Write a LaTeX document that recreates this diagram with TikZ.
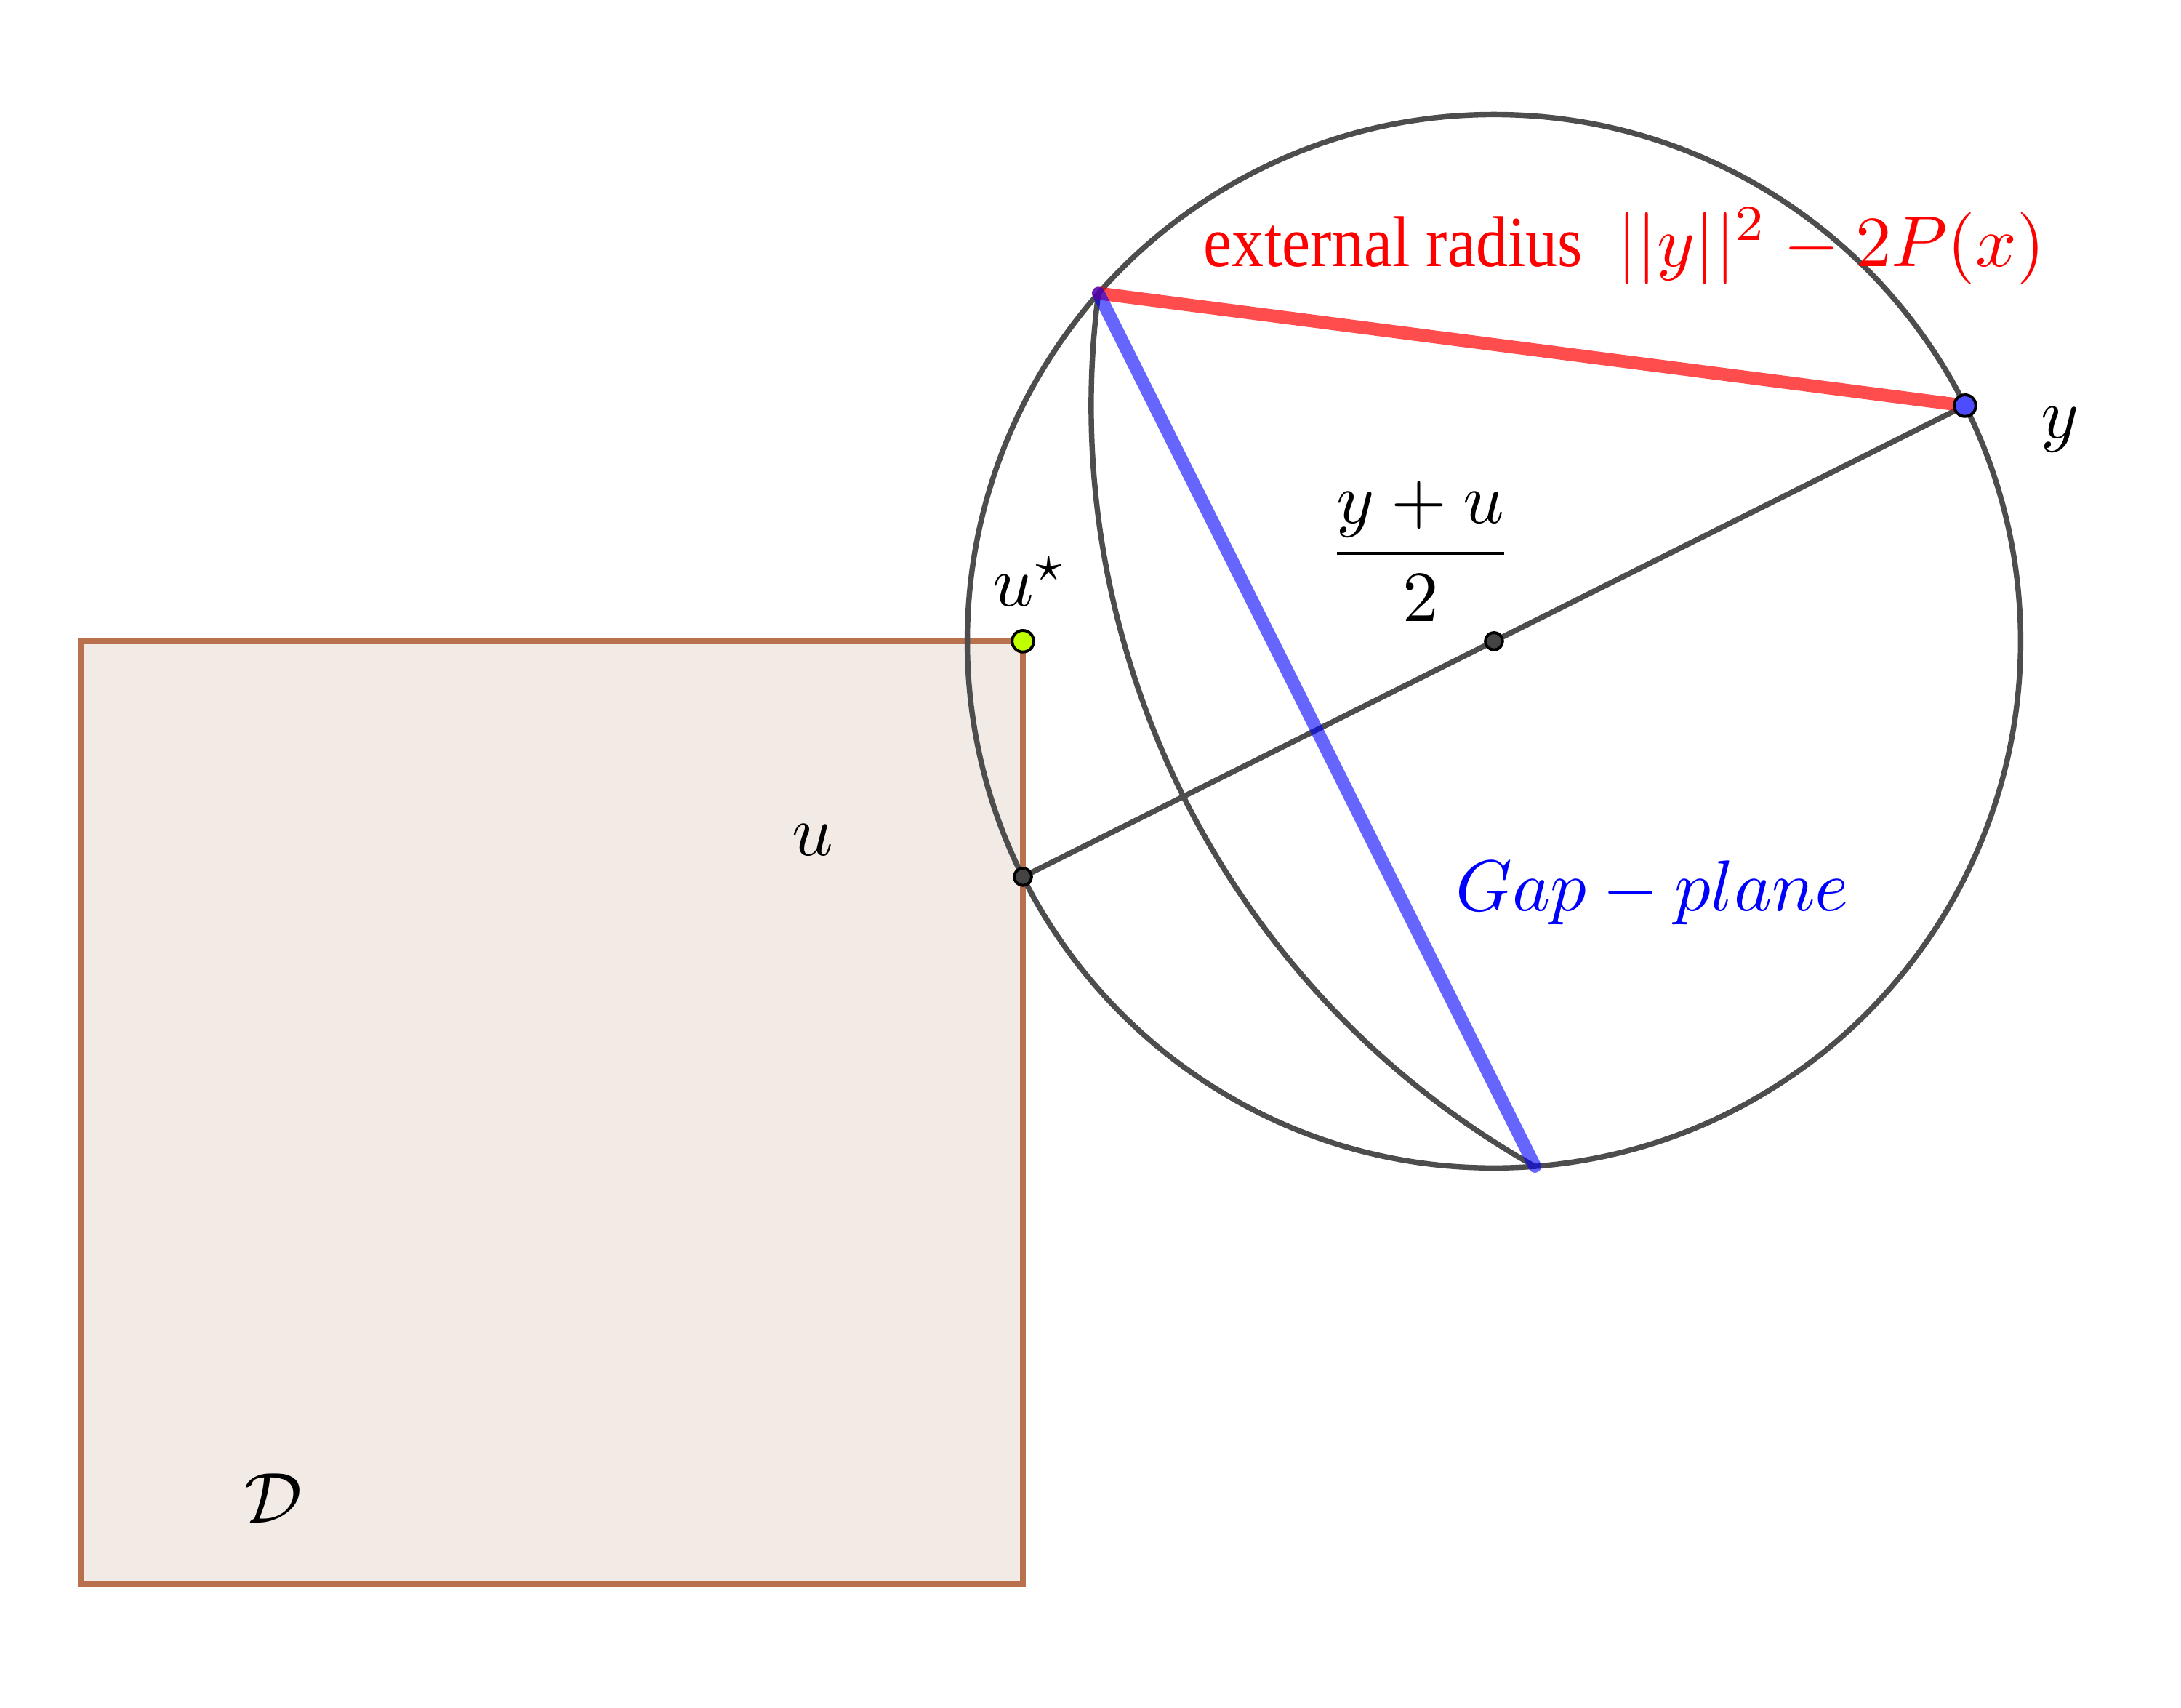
\documentclass[tikz,border=0pt]{standalone}
\usepackage[no-math]{fontspec}
\usepackage{amsmath}
\newfontfamily\radfont{Liberation Serif}[FakeStretch=0.89]
\usetikzlibrary{calc}
\definecolor{geoline}{RGB}{77,77,77}
\definecolor{domfill}{RGB}{242,234,229}
\definecolor{domline}{RGB}{184,112,77}
\definecolor{ustarfill}{RGB}{191,255,0}
\definecolor{yfill}{RGB}{77,77,255}
\definecolor{depfill}{RGB}{68,68,68}

\begin{document}
\begin{tikzpicture}[x=1.15cm,y=1.15cm,
        geo/.style={geoline,line width=0.75pt},
        dbox/.style={draw=domline,fill=domfill,line width=0.75pt},
        radseg/.style={red,opacity=0.7,line width=1.8pt,line cap=round},
        gapseg/.style={blue,opacity=0.6,line width=1.8pt,line cap=round},
        freedot/.style={draw=black,line width=0.4pt},
        depdot/.style={draw=black,fill=depfill,line width=0.4pt}]
                \useasboundingbox (-4.343,-4.528) rectangle (4.917,2.722);
                \coordinate (ustar) at (0,0);
                \coordinate (u) at (0,-1);
                \coordinate (y) at (4,1);
                \coordinate (m) at (2,0);
                \coordinate (p) at (0.3207,1.477);
                \coordinate (q) at (2.1737,-2.229);
                \draw[dbox] (-4,-4) rectangle (ustar);
                \draw[geo] (m) circle ({sqrt(5)});
                \draw[geo] (p) arc[start angle=172.61,end angle=240.50,radius=3.71];
                \draw[geo] (u) -- (y);
                \draw[radseg] (p) -- (y);
                \draw[gapseg] (p) -- (q);
                \draw[depdot] (u) circle (1.2pt);
                \draw[depdot] (m) circle (1.2pt);
                \draw[freedot,fill=yfill] (y) circle (1.5pt);
                \draw[freedot,fill=ustarfill] (ustar) circle (1.5pt);
                \node[anchor=base west,inner sep=0pt,red] (extlabel) at (0.762,1.59)
                    {{\radfont external radius}\hspace{0.48em}$||y||^2-2P(x)$};
                \node[anchor=base] (ylabel) at (4.404,0.861) {$y$};
                \node (mlabel) at (1.688,0.383) {$\dfrac{y+u}{2}$};
                \node[anchor=base west,inner sep=0pt] (ustarlabel) at (-0.133,0.148) {$u^\star$};
                \node[anchor=base] (ulabel) at (-0.892,-0.910) {$u$};
                \node[anchor=base] (dlabel) at (-3.182,-3.744) {$\mathcal{D}$};
                \node[anchor=base west,inner sep=0pt,blue] (gaplabel) at (1.833,-1.145) {$Gap-plane$};
            \end{tikzpicture}
\end{document}
